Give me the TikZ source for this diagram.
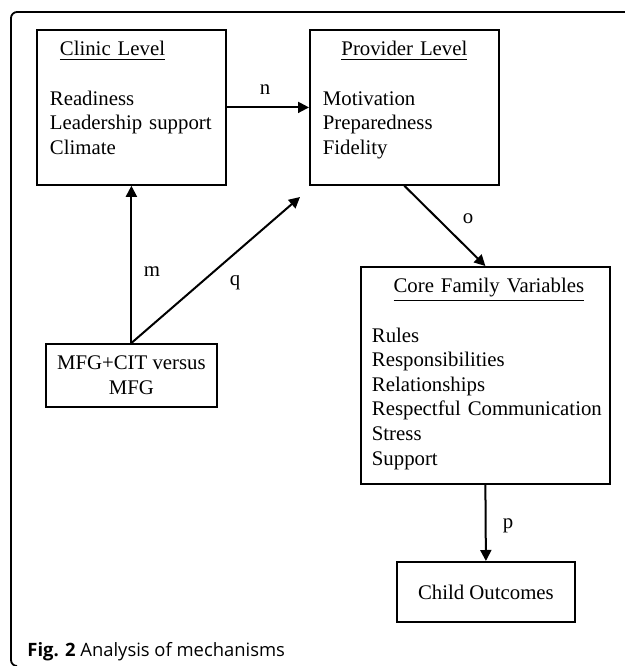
\documentclass[tikz,border=0pt]{standalone}
\usepackage{fontspec}
\setmainfont{Liberation Serif}
\newfontfamily\capfont{Open Sans}
\usetikzlibrary{arrows.meta}

\begin{document}
\begin{tikzpicture}[x=0.5pt,y=-0.5pt,
    box/.style={draw,line width=0.9pt,inner xsep=6.5pt,inner ysep=0pt,anchor=north west,align=left,font=\fontsize{10.4}{12.3}\selectfont},
    conn/.style={line width=1pt,-{Triangle[length=5.5pt,width=5.5pt]}},
    lbl/.style={inner sep=0pt,font=\fontsize{10.4}{12.3}\selectfont}]
  \useasboundingbox (0,0) rectangle (625,666);
  % frame of the figure
  \draw[line width=0.9pt,rounded corners=3pt] (625,12) -- (11,12) -- (11,666) -- (16,666);

  \node[box,text width=81.5pt,text height=13pt,text depth=64.5pt] (clinic) at (36,29)
    {\hspace*{5pt}\underline{Clinic Level}\\[12.3pt]Readiness\\Leadership support\\Climate};
  \node[box,text width=81.5pt,text height=13pt,text depth=64.5pt] (provider) at (309,29)
    {\makebox[81.5pt]{\underline{Provider Level}}\\[12.3pt]Motivation\\Preparedness\\Fidelity};
  \node[box,inner xsep=5.5pt,text width=113.5pt,text height=13pt,text depth=95.5pt] (core) at (360,266)
    {\makebox[113.5pt]{\hspace*{3.5pt}\underline{Core Family Variables}}\\[12.3pt]Rules\\Responsibilities\\Relationships\\\mbox{Respectful Communication}\\Stress\\Support};
  \node[box,align=center,inner xsep=0pt,minimum width=85.5pt,minimum height=31.5pt] (mfg) at (45,343)
    {MFG+CIT versus\\MFG};
  \node[box,align=center,inner xsep=0pt,minimum width=89pt,minimum height=30pt] (child) at (396,561)
    {Child Outcomes};

  \coordinate (qend) at (300,197);

  \draw[conn] (clinic.east) -- (provider.west);
  \draw[conn] (mfg.north) -- (clinic.south);
  \draw[conn] (mfg.north) -- (qend);
  \draw[conn] (provider.south) -- (core.north);
  \draw[conn] (core.south) -- (child.north);

  \node[lbl] (labn) at (265,90) {n};
  \node[lbl] (labm) at (152,272) {m};
  \node[lbl] (labq) at (235,283) {q};
  \node[lbl] (labo) at (468,219) {o};
  \node[lbl] (labp) at (508,526) {p};

  \node[anchor=base west,inner sep=0pt,font=\capfont\fontsize{9.2}{11}\selectfont] (caption) at (27,656)
    {\textbf{Fig. 2} Analysis of mechanisms};
\end{tikzpicture}
\end{document}
